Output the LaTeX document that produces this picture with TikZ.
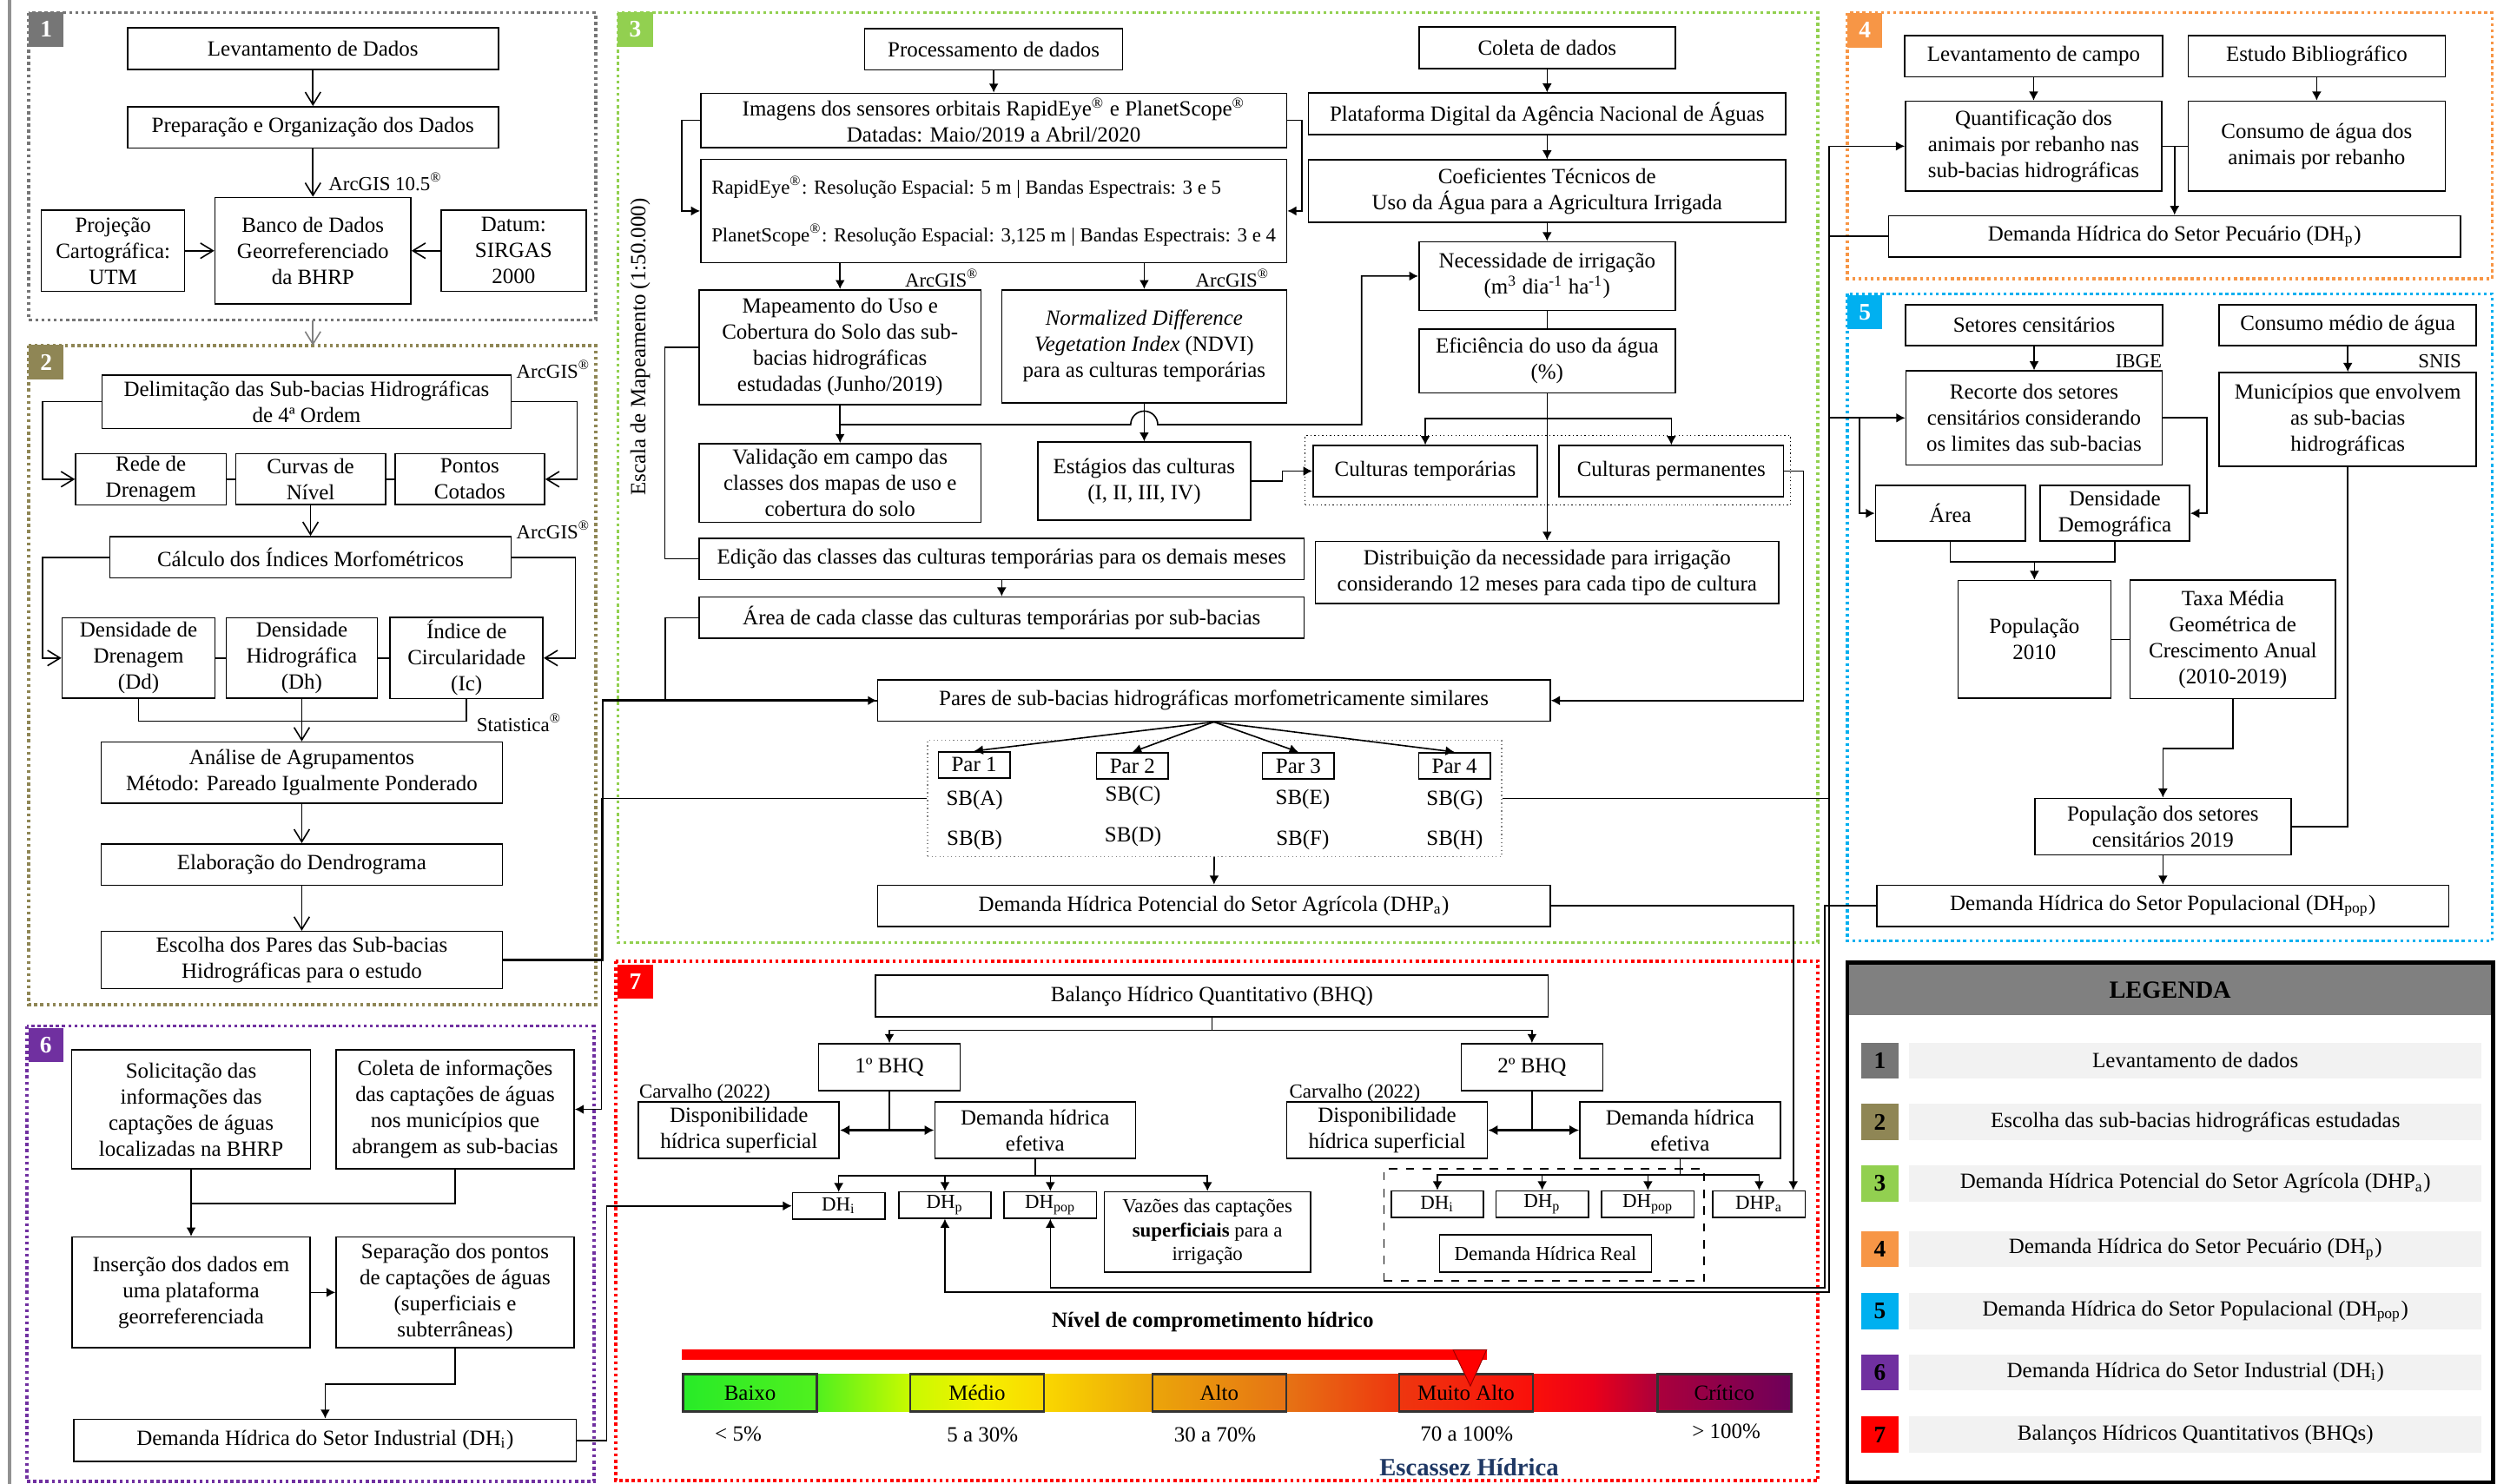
\documentclass[tikz,border=0pt]{standalone}
\usepackage{fontspec}
\setmainfont{Liberation Serif}
\usetikzlibrary{shapes.geometric, arrows.meta}

\newcommand{\fs}{\fontsize{7.75}{9.3}\selectfont}
\newcommand{\fss}{\fontsize{7.1}{8.5}\selectfont}

\definecolor{pan1}{RGB}{118,118,118}
\definecolor{pan2}{RGB}{143,134,85}
\definecolor{pan3}{RGB}{146,208,80}
\definecolor{pan4}{RGB}{247,150,70}
\definecolor{pan5}{RGB}{0,176,240}
\definecolor{pan6}{RGB}{112,48,160}
\definecolor{pan7}{RGB}{255,0,0}
\definecolor{navy}{RGB}{31,56,100}
\definecolor{sc0}{RGB}{40,235,40}
\definecolor{sc1}{RGB}{80,240,30}
\definecolor{sc2}{RGB}{200,250,0}
\definecolor{sc3}{RGB}{245,240,0}
\definecolor{sc4}{RGB}{250,215,0}
\definecolor{sc5}{RGB}{235,165,10}
\definecolor{sc6}{RGB}{230,115,20}
\definecolor{sc7}{RGB}{238,55,15}
\definecolor{sc8}{RGB}{250,15,10}
\definecolor{sc9}{RGB}{235,0,25}
\definecolor{sc10}{RGB}{170,0,60}
\definecolor{sc11}{RGB}{110,0,90}

\pgfdeclarehorizontalshading{scarcity}{100bp}{color(0bp)=(sc0); color(25bp)=(sc0); color(31bp)=(sc1); color(35.2bp)=(sc2); color(38.5bp)=(sc3); color(41.3bp)=(sc4); color(46.2bp)=(sc5); color(52.2bp)=(sc6); color(57.2bp)=(sc7); color(63.4bp)=(sc8); color(66bp)=(sc9); color(69bp)=(sc10); color(75bp)=(sc11); color(100bp)=(sc11)}

\tikzstyle{std} = [rectangle, draw=black, line width=0.5pt, align=center, text centered, inner sep=1pt]
\tikzstyle{arrow} = [->,>={Latex[length=3.2pt,width=3.4pt]}]
\tikzstyle{openarrow} = [->,>={Straight Barb[length=4.5pt,width=5.5pt]}]
\tikzstyle{panelbox} = [line width=1.1pt, dash pattern=on 1.1pt off 1.1pt]
\tikzstyle{paneltag} = [rectangle, minimum width=0.44cm, minimum height=0.43cm, inner sep=0pt, text=white, font=\bfseries\fontsize{8.5}{10}\selectfont]
\tikzstyle{note} = [inner sep=0pt, font=\fss]
\tikzstyle{lvl} = [rectangle, draw=black!80, line width=0.8pt, minimum width=1.68cm, minimum height=0.466cm, inner sep=0pt]
\tikzstyle{legnum} = [rectangle, minimum width=0.46cm, minimum height=0.45cm, inner sep=0pt, font=\bfseries\fontsize{8.5}{10}\selectfont]
\tikzstyle{legbar} = [rectangle, fill=black!5, minimum width=7.19cm, minimum height=0.45cm, inner sep=0pt]

\begin{document}
\begin{tikzpicture}[x=0.02cm, y=-0.02cm, font=\fs, line width=0.5pt]
  \useasboundingbox (0,0) rectangle (1568,932);
  \draw[pan1!80, line width=1pt] (6,0) -- (6,932);

  % panel frames
  \draw[panelbox, pan1] (18,8) rectangle (374,201);
  \draw[panelbox, pan2] (18,217) rectangle (374,631);
  \draw[panelbox, pan3] (388,8) rectangle (1141.6,592);
  \draw[panelbox, pan4] (1160,8) rectangle (1565,175);
  \draw[panelbox, pan5] (1160,184.5) rectangle (1565,591);
  \draw[panelbox, pan6] (17,644.5) rectangle (373,930.5);
  \draw[panelbox, pan7] (386.7,603.7) rectangle (1141.6,930);
  \node[paneltag, fill=pan1] (tag1) at (29,18.5) {1};
  \node[paneltag, fill=pan2] (tag2) at (29,227.5) {2};
  \node[paneltag, fill=pan3] (tag3) at (399,18.5) {3};
  \node[paneltag, fill=pan4] (tag4) at (1171,19) {4};
  \node[paneltag, fill=pan5] (tag5) at (1171,196) {5};
  \node[paneltag, fill=pan6] (tag6) at (28.8,656.5) {6};
  \node[paneltag, fill=pan7] (tag7) at (399,616.5) {7};

  % 1 - levantamento
  \node (lev)   [std, minimum width=4.66cm, minimum height=0.52cm] at (196.5,30.6) {Levantamento de Dados};
  \node (prep)  [std, minimum width=4.66cm, minimum height=0.52cm] at (196.5,80) {Preparação e Organização dos Dados};
  \node (banco) [std, minimum width=2.46cm, minimum height=1.34cm] at (196.5,157.5) {Banco de Dados\\Georreferenciado\\da BHRP};
  \node (proj)  [std, minimum width=1.8cm, minimum height=1.02cm] at (71,157.5) {Projeção\\Cartográfica:\\UTM};
  \node (datum) [std, minimum width=1.82cm, minimum height=1.02cm] at (322.5,157.5) {Datum:\\SIRGAS\\2000};
  \node (arc105) [note] at (242,114) {ArcGIS 10.5\textsuperscript{®}};

  \draw [openarrow] (lev) -- (prep);
  \draw [openarrow] (prep) -- (banco);
  \draw [openarrow] (proj) -- (banco);
  \draw [openarrow] (datum) -- (banco);
  \coordinate (p1out) at (196.5,201);
  \coordinate (p2in) at (196.5,217);
  \draw [openarrow, gray] (p1out) -- (p2in);

  % 2 - sub-bacias
  \node (delim)   [std, minimum width=5.14cm, minimum height=0.67cm] at (192.5,252.3) {Delimitação das Sub-bacias Hidrográficas\\de 4ª Ordem};
  \node (arcA)    [note] at (347.5,232) {ArcGIS\textsuperscript{®}};
  \node (rede)    [std, minimum width=1.89cm, minimum height=0.64cm] at (94.75,301) {Rede de\\Drenagem};
  \node (curvas)  [std, minimum width=1.88cm, minimum height=0.64cm] at (195,301) {Curvas de\\Nível};
  \node (pontos)  [std, minimum width=1.88cm, minimum height=0.64cm] at (295,301) {Pontos\\Cotados};
  \node (arcB)    [note] at (347.5,333) {ArcGIS\textsuperscript{®}};
  \node (calc)    [std, minimum width=5.04cm, minimum height=0.52cm] at (195,350) {Cálculo dos Índices Morfométricos};
  \node (dd)      [std, minimum width=1.92cm, minimum height=1.01cm] at (87,413.3) {Densidade de\\Drenagem\\(Dd)};
  \node (dh)      [std, minimum width=1.9cm, minimum height=1.01cm] at (189.5,413.3) {Densidade\\Hidrográfica\\(Dh)};
  \node (ic)      [std, minimum width=1.92cm, minimum height=1.01cm] at (293,413.3) {Índice de\\Circularidade\\(Ic)};
  \node (stat)    [note] at (326,454) {Statistica\textsuperscript{®}};
  \node (analise) [std, minimum width=5.04cm, minimum height=0.77cm] at (189.5,485.3) {Análise de Agrupamentos\\Método: Pareado Igualmente Ponderado};
  \node (dendro)  [std, minimum width=5.04cm, minimum height=0.52cm] at (189.5,543) {Elaboração do Dendrograma};
  \node (escolha) [std, minimum width=5.04cm, minimum height=0.72cm] at (189.5,603) {Escolha dos Pares das Sub-bacias\\Hidrográficas para o estudo};

  \draw [openarrow] (delim.west) -- ++(-37,0) |- (rede.west);
  \draw [openarrow] (delim.east) -- ++(41,0) |- (pontos.east);
  \draw (rede) -- (curvas);
  \draw (curvas) -- (pontos);
  \draw [openarrow] (curvas) -- (calc);
  \draw [openarrow] (calc.west) -- ++(-42,0) |- (dd.west);
  \draw [openarrow] (calc.east) -- ++(40,0) |- (ic.east);
  \draw (dd) -- (dh);
  \draw (dh) -- (ic);
  \draw (dd.south) -- ++(0,14) -| (ic.south);
  \draw [openarrow] (dh) -- (analise);
  \draw [openarrow] (analise) -- (dendro);
  \draw [openarrow] (dendro) -- (escolha);

  % 3 - setor agricola
  \node (escala)  [rotate=90] at (402,218) {Escala de Mapeamento (1:50.000)};
  \node (proc)    [std, minimum width=3.24cm, minimum height=0.52cm] at (624,31) {Processamento de dados};
  \node (imagens) [std, minimum width=7.36cm, minimum height=0.68cm] at (624,75.6) {Imagens dos sensores orbitais RapidEye\textsuperscript{®} e PlanetScope\textsuperscript{®}\\Datadas: Maio/2019 a Abril/2020};
  \node (rapid)   [std, minimum width=7.36cm, minimum height=1.3cm, align=left, font=\fss] at (624,132.5) {RapidEye\textsuperscript{®}: Resolução Espacial: 5 m | Bandas Espectrais: 3 e 5\\[0.3cm]PlanetScope\textsuperscript{®}: Resolução Espacial: 3,125 m | Bandas Espectrais: 3 e 4};
  \node (arcC)    [note] at (591.5,174.5) {ArcGIS\textsuperscript{®}};
  \node (arcD)    [note] at (774,174.5) {ArcGIS\textsuperscript{®}};
  \node (mapeam)  [std, minimum width=3.54cm, minimum height=1.44cm] at (527.5,218) {Mapeamento do Uso e\\Cobertura do Solo das sub-\\bacias hidrográficas\\estudadas (Junho/2019)};
  \node (ndvi)    [std, minimum width=3.58cm, minimum height=1.42cm] at (718.5,217.5) {\textit{Normalized Difference}\\\textit{Vegetation Index} (NDVI)\\para as culturas temporárias};
  \node (valid)   [std, minimum width=3.54cm, minimum height=0.99cm] at (527.5,303.4) {Validação em campo das\\classes dos mapas de uso e\\cobertura do solo};
  \node (estag)   [std, minimum width=2.67cm, minimum height=0.98cm] at (718.5,302.2) {Estágios das culturas\\(I, II, III, IV)};
  \node (edicao)  [std, minimum width=7.6cm, minimum height=0.52cm] at (629,351) {Edição das classes das culturas temporárias para os demais meses};
  \node (areacls) [std, minimum width=7.6cm, minimum height=0.52cm] at (629,388) {Área de cada classe das culturas temporárias por sub-bacias};
  \node (pares)   [std, minimum width=8.45cm, minimum height=0.52cm] at (762.25,440) {Pares de sub-bacias hidrográficas morfometricamente similares};
  \node (pairbox) [draw=gray, densely dotted, line width=0.4pt, minimum width=7.21cm, minimum height=1.46cm, inner sep=0pt] at (762.75,501.5) {};
  \node (par1) [std, minimum width=0.9cm, minimum height=0.33cm, inner sep=0pt] at (611.7,480.4) {Par 1};
  \node (par2) [std, minimum width=0.9cm, minimum height=0.33cm, inner sep=0pt] at (711.1,481) {Par 2};
  \node (par3) [std, minimum width=0.9cm, minimum height=0.33cm, inner sep=0pt] at (815.3,481) {Par 3};
  \node (par4) [std, minimum width=0.9cm, minimum height=0.33cm, inner sep=0pt] at (913.35,481) {Par 4};
  \node (sba) at (612,502.6) {SB(A)};
  \node (sbb) at (612,527.5) {SB(B)};
  \node (sbc) at (711.5,500) {SB(C)};
  \node (sbd) at (711.5,525.7) {SB(D)};
  \node (sbe) at (818,502) {SB(E)};
  \node (sbf) at (818,527.5) {SB(F)};
  \node (sbg) at (913.5,502.6) {SB(G)};
  \node (sbh) at (913.5,527.6) {SB(H)};
  \node (dhpa)    [std, minimum width=8.45cm, minimum height=0.52cm] at (762.25,569) {Demanda Hídrica Potencial do Setor Agrícola (DHP\textsubscript{a})};
  \node (coleta)  [std, minimum width=3.22cm, minimum height=0.52cm] at (971.5,30) {Coleta de dados};
  \node (plataf)  [std, minimum width=6.0cm, minimum height=0.52cm] at (971.5,71.5) {Plataforma Digital da Agência Nacional de Águas};
  \node (coef)    [std, minimum width=6.0cm, minimum height=0.78cm] at (971.5,120) {Coeficientes Técnicos de\\Uso da Água para a Agricultura Irrigada};
  \node (necess)  [std, minimum width=3.22cm, minimum height=0.86cm] at (971.5,173.4) {Necessidade de irrigação\\(m\textsuperscript{3} dia\textsuperscript{-1} ha\textsuperscript{-1})};
  \node (efic)    [std, minimum width=3.22cm, minimum height=0.8cm] at (971.5,226.7) {Eficiência do uso da água\\(\%)};
  \node (cultbox) [draw, densely dotted, line width=0.4pt, minimum width=6.1cm, minimum height=0.87cm, inner sep=0pt] at (972,295.4) {};
  \node (culttemp) [std, minimum width=2.82cm, minimum height=0.64cm] at (895,295.9) {Culturas temporárias};
  \node (cultperm) [std, minimum width=2.82cm, minimum height=0.64cm] at (1049.5,295.9) {Culturas permanentes};
  \node (distrib) [std, minimum width=5.82cm, minimum height=0.78cm] at (971.5,359.5) {Distribuição da necessidade para irrigação\\considerando 12 meses para cada tipo de cultura};

  \draw [arrow] (proc) -- (imagens);
  \draw [arrow] (imagens.west) -- ++(-11.5,0) |- (rapid.west);
  \draw [arrow] (imagens.east) -- ++(9,0) |- (rapid.east);
  \draw [arrow] (mapeam.north |- rapid.south) -- (mapeam.north);
  \draw [arrow] (ndvi.north |- rapid.south) -- (ndvi.north);
  \draw [arrow] (mapeam) -- (valid);
  \coordinate (mapsplit) at (527.5,266.7);
  \draw [arrow] (mapsplit) -- (710,266.7) arc[start angle=180, end angle=0, radius=0.17cm] -- (855,266.7) |- (necess.west);
  \draw [arrow] (ndvi) -- (estag);
  \draw [arrow] (estag.east) -- ++(19.5,0) |- (culttemp.west);
  \draw [arrow] (coleta) -- (plataf);
  \draw [arrow] (plataf) -- (coef);
  \draw [arrow] (coef) -- (necess);
  \draw (necess) -- (efic);
  \draw [arrow] (efic) -- (distrib);
  \coordinate (effsplit) at (971.5,263);
  \draw [arrow] (effsplit) -| (culttemp.north);
  \draw [arrow] (effsplit) -| (cultperm.north);
  \draw [arrow] (cultperm.east) -- ++(12,0) |- (pares.east);
  \draw [arrow] (edicao) -- (areacls);
  \draw (mapeam.west) -- ++(-21,0) |- (edicao.west);
  \draw (areacls.west) -- ++(-21,0) |- (pares.west);
  \draw [arrow, line width=0.8pt] (escolha.east) -- ++(62.5,0) |- (pares.west);
  \foreach \pp in {par1,par2,par3,par4}
    \draw [arrow] (pares.south) -- (\pp.north);
  \draw [arrow] (pairbox) -- (dhpa);

  % 4 - setor pecuario
  \node (levcampo) [std, minimum width=3.24cm, minimum height=0.52cm] at (1277,35.3) {Levantamento de campo};
  \node (estudo)   [std, minimum width=3.23cm, minimum height=0.52cm] at (1454.75,35.3) {Estudo Bibliográfico};
  \node (quant)    [std, minimum width=3.22cm, minimum height=1.13cm] at (1277,91.8) {Quantificação dos\\animais por rebanho nas\\sub-bacias hidrográficas};
  \node (consumo)  [std, minimum width=3.23cm, minimum height=1.13cm] at (1454.75,91.8) {Consumo de água dos\\animais por rebanho};
  \node (dhp)      [std, minimum width=7.18cm, minimum height=0.52cm] at (1365.5,148.45) {Demanda Hídrica do Setor Pecuário (DH\textsubscript{p})};

  \draw [arrow] (levcampo) -- (quant);
  \draw [arrow] (estudo) -- (consumo);
  \draw (quant) -- (consumo);
  \draw [arrow] (quant.east -| dhp.north) -- (dhp.north);

  % 5 - setor populacional
  \node (setores) [std, minimum width=3.23cm, minimum height=0.51cm] at (1277.3,204.2) {Setores censitários};
  \node (ibge)    [note, anchor=east] at (1358,227) {IBGE};
  \node (consmed) [std, minimum width=3.23cm, minimum height=0.51cm] at (1474.3,204.2) {Consumo médio de água};
  \node (snis)    [note, anchor=east] at (1546,227) {SNIS};
  \node (recorte) [std, minimum width=3.22cm, minimum height=1.18cm] at (1277.3,262.5) {Recorte dos setores\\censitários considerando\\os limites das sub-bacias};
  \node (munic)   [std, minimum width=3.23cm, minimum height=1.18cm] at (1474.3,263.5) {Municípios que envolvem\\as sub-bacias\\hidrográficas};
  \node (area)    [std, minimum width=1.88cm, minimum height=0.7cm] at (1224.7,322.4) {Área};
  \node (densdem) [std, minimum width=1.88cm, minimum height=0.7cm] at (1328,322.4) {Densidade\\Demográfica};
  \node (pop10)   [std, minimum width=1.92cm, minimum height=1.48cm] at (1277.5,401.6) {População\\2010};
  \node (taxa)    [std, minimum width=2.58cm, minimum height=1.49cm] at (1402.1,401.6) {Taxa Média\\Geométrica de\\Crescimento Anual\\(2010-2019)};
  \node (pop19)   [std, minimum width=3.22cm, minimum height=0.71cm] at (1358.2,519.15) {População dos setores\\censitários 2019};
  \node (dhpop)   [std, minimum width=7.18cm, minimum height=0.52cm] at (1358.2,569) {Demanda Hídrica do Setor Populacional (DH\textsubscript{pop})};

  \draw [arrow] (setores) -- (recorte);
  \draw [arrow] (consmed) -- (munic);
  \draw [arrow] (recorte.east) -- ++(27.7,0) |- (densdem.east);
  \draw (area.south) -- ++(0,12.5) -| (densdem.south);
  \coordinate (popsplit) at (1277.5,352.5);
  \draw [arrow] (popsplit) -- (pop10.north);
  \draw (pop10) -- (taxa);
  \draw [arrow] (taxa.south) -- ++(0,31) -| (pop19.north);
  \draw (munic.south) |- (pop19.east);
  \draw [arrow] (pop19) -- (dhpop);

  % 6 - setor industrial
  \node (solic)     [std, minimum width=3.0cm, minimum height=1.49cm] at (120,696.75) {Solicitação das\\informações das\\captações de águas\\localizadas na BHRP};
  \node (coletainf) [std, minimum width=2.99cm, minimum height=1.49cm] at (285.8,696.75) {Coleta de informações\\das captações de águas\\nos municípios que\\abrangem as sub-bacias};
  \node (insercao)  [std, minimum width=2.99cm, minimum height=1.39cm] at (120,811.75) {Inserção dos dados em\\uma plataforma\\georreferenciada};
  \node (separ)     [std, minimum width=2.99cm, minimum height=1.39cm] at (285.8,811.75) {Separação dos pontos\\de captações de águas\\(superficiais e\\subterrâneas)};
  \node (dhi)       [std, minimum width=6.31cm, minimum height=0.53cm] at (204.2,904.65) {Demanda Hídrica do Setor Industrial (DH\textsubscript{i})};

  \draw [arrow] (solic) -- (insercao);
  \draw (coletainf.south) -- ++(0,21.6) -- ++(-165.8,0);
  \draw [arrow] (insercao) -- (separ);
  \draw [arrow] (separ.south) -- ++(0,22.5) -| (dhi.north);
  \draw [arrow] (pairbox.west) -- ++(-204.5,0) |- (coletainf.east);

  % 7 - balancos hidricos
  \node (bhq)   [std, minimum width=8.45cm, minimum height=0.52cm] at (761,625.6) {Balanço Hídrico Quantitativo (BHQ)};
  \node (bhq1)  [std, minimum width=1.78cm, minimum height=0.59cm] at (558.5,670.3) {1º BHQ};
  \node (bhq2)  [std, minimum width=1.78cm, minimum height=0.59cm] at (962,670.3) {2º BHQ};
  \node (carv1) [note] at (442.5,686.6) {Carvalho (2022)};
  \node (carv2) [note] at (850.75,686.6) {Carvalho (2022)};
  \node (disp1) [std, minimum width=2.52cm, minimum height=0.71cm] at (464,709.85) {Disponibilidade\\hídrica superficial};
  \node (dem1)  [std, minimum width=2.52cm, minimum height=0.71cm] at (650,709.85) {Demanda hídrica\\efetiva};
  \node (disp2) [std, minimum width=2.52cm, minimum height=0.71cm] at (871,709.85) {Disponibilidade\\hídrica superficial};
  \node (dem2)  [std, minimum width=2.52cm, minimum height=0.71cm] at (1055,709.85) {Demanda hídrica\\efetiva};
  \node (dhi1)   [std, font=\fss, minimum width=1.16cm, minimum height=0.33cm, inner sep=0pt] at (526.65,757.4) {DH\textsubscript{i}};
  \node (dhp1)   [std, font=\fss, minimum width=1.16cm, minimum height=0.33cm, inner sep=0pt] at (593.35,756.8) {DH\textsubscript{p}};
  \node (dhpop1) [std, font=\fss, minimum width=1.16cm, minimum height=0.33cm, inner sep=0pt] at (659.55,756.8) {DH\textsubscript{pop}};
  \node (vazoes) [std, font=\fss, minimum width=2.59cm, minimum height=1.01cm] at (758.2,773.8) {Vazões das captações\\\textbf{superficiais} para a\\irrigação};
  \node (realbox) [draw, dashed, line width=0.5pt, minimum width=4.02cm, minimum height=1.41cm, inner sep=0pt] at (969.5,769.3) {};
  \node (dhi2)   [std, font=\fss, minimum width=1.16cm, minimum height=0.33cm, inner sep=0pt] at (902.6,756.25) {DH\textsubscript{i}};
  \node (dhp2)   [std, font=\fss, minimum width=1.16cm, minimum height=0.33cm, inner sep=0pt] at (968.4,756.25) {DH\textsubscript{p}};
  \node (dhpop2) [std, font=\fss, minimum width=1.16cm, minimum height=0.33cm, inner sep=0pt] at (1034.8,756.25) {DH\textsubscript{pop}};
  \node (dhpa2)  [std, font=\fss, minimum width=1.16cm, minimum height=0.33cm, inner sep=0pt] at (1104.65,756.25) {DHP\textsubscript{a}};
  \node (real)   [std, font=\fss, minimum width=2.66cm, minimum height=0.47cm] at (970.5,787.25) {Demanda Hídrica Real};

  \coordinate (bhqsplit) at (761,647);
  \draw (bhq) -- (bhqsplit);
  \draw [arrow] (bhqsplit) -| (bhq1.north);
  \draw [arrow] (bhqsplit) -| (bhq2.north);
  \draw (bhq1.south) -- (bhq1.south |- disp1.east);
  \draw (bhq2.south) -- (bhq2.south |- disp2.east);
  \draw [<->, >={Latex[length=3.4pt,width=3.6pt]}, line width=0.8pt] (disp1) -- (dem1);
  \draw [<->, >={Latex[length=3.4pt,width=3.6pt]}, line width=0.8pt] (disp2) -- (dem2);
  \coordinate (d1split) at (650,738.5);
  \draw (dem1) -- (d1split);
  \foreach \bx in {dhi1,dhp1,dhpop1,vazoes}
    \draw [arrow] (d1split) -| (\bx.north);
  \coordinate (d2split) at (1055,737.8);
  \draw (dem2) -- (d2split);
  \foreach \bx in {dhi2,dhp2,dhpop2,dhpa2}
    \draw [arrow] (d2split) -| (\bx.north);

  % links between panels 3, 4, 5, 6 and 7
  \coordinate (busin) at (1148.6,501.5);
  \coordinate (busrec) at (1148.6,262.5);
  \coordinate (busarea) at (1167.5,262.5);
  \coordinate (busend) at (1148.6,811.4);
  \draw [arrow] (pairbox.east) -- (busin) |- (quant.west);
  \draw [arrow] (busrec) -- (recorte.west);
  \draw [arrow] (busarea) |- (area.west);
  \draw [arrow] (dhp.west) -| (busend) -| (dhp1.south);
  \draw [arrow] (dhpop.west) -| (1146,808.9) -| (dhpop1.south);
  \draw [arrow] (dhpa.east) -| ([xshift=-0.16cm]dhpa2.north east);
  \draw [arrow] (dhi.east) -- ++(18.6,0) |- (dhi1.west);

  % escala de comprometimento
  \node (nivel) [font=\bfseries\fs] at (761.5,830.4) {Nível de comprometimento hídrico};
  \fill[red] (428,847.8) rectangle (933.5,854);
  \shade[shading=scarcity] (429,863.2) rectangle (1125,886.5);
  \node (baixo)   [lvl] at (471,874.85) {Baixo};
  \node (medio)   [lvl] at (613.55,874.85) {Médio};
  \node (alto)    [lvl] at (765.65,874.85) {Alto};
  \node (mtalto)  [lvl] at (920.55,874.85) {Muito Alto};
  \node (critico) [lvl] at (1082.8,874.85) {Crítico};
  \filldraw[fill=red, draw=red!60!black, line width=0.3pt] (912.5,847.8) -- (933.5,847.8) -- (923.3,870.5) -- cycle;
  \node (pc1) at (463.6,900.5) {< 5\%};
  \node (pc2) at (617,901) {5 a 30\%};
  \node (pc3) at (763,901) {30 a 70\%};
  \node (pc4) at (921,900.5) {70 a 100\%};
  \node (pc5) at (1084,899) {> 100\%};
  \node (escassez) [font=\bfseries\fontsize{8.9}{10}\selectfont, text=navy] at (922.5,921.8) {Escassez Hídrica};

  % legenda
  \fill[black!50] (1160,604.6) rectangle (1565.5,637.6);
  \draw[line width=1.3pt] (1160,604.6) rectangle (1565.5,930.9);
  \node (legtitle) [font=\bfseries\fontsize{8.8}{10}\selectfont] at (1362.7,622) {LEGENDA};
  \foreach \rowy/\rowc/\rown/\rowt in {666/pan1/1/{Levantamento de dados},
      704.7/pan2/2/{Escolha das sub-bacias hidrográficas estudadas},
      743.3/pan3/3/{Demanda Hídrica Potencial do Setor Agrícola (DHP\textsubscript{a})},
      784.6/pan4/4/{Demanda Hídrica do Setor Pecuário (DH\textsubscript{p})},
      823.6/pan5/5/{Demanda Hídrica do Setor Populacional (DH\textsubscript{pop})},
      862/pan6/6/{Demanda Hídrica do Setor Industrial (DH\textsubscript{i})},
      901/pan7/7/{Balanços Hídricos Quantitativos (BHQs)}}
  {
    \node (num\rown) [legnum, fill=\rowc] at (1180.5,\rowy) {\rown};
    \node (bar\rown) [legbar] at (1378.6,\rowy) {\rowt};
  }
\end{tikzpicture}
\end{document}
